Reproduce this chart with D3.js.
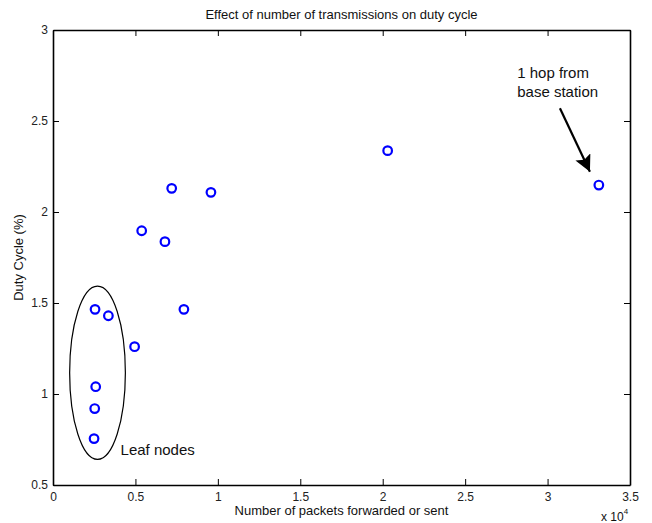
<!DOCTYPE html>
<html>
<head>
<meta charset="utf-8">
<script src="https://cdn.jsdelivr.net/npm/d3@7/dist/d3.min.js"></script>
<style>
  body { margin: 0; background: #fff; }
  text { font-family: "Liberation Sans", Arial, sans-serif; }
</style>
</head>
<body>
<script>
// packets forwarded or sent, and duty cycle (%) per node
const packets = [2550, 3360, 4950, 2590, 2530, 2490, 7940, 5380, 6790, 7200, 9580, 20300, 33110];
const duty = [1.465, 1.43, 1.26, 1.04, 0.92, 0.755, 1.465, 1.897, 1.837, 2.13, 2.108, 2.337, 2.148];
const xTicks = [0, 5000, 10000, 15000, 20000, 25000, 30000, 35000];
const yTicks = [0.5, 1, 1.5, 2, 2.5, 3];

const width = 652, height = 523;
const margin = {top: 30, right: 22, bottom: 38, left: 53};

const svg = d3.select('body').append('svg')
    .attr('width', width)
    .attr('height', height);

const x = d3.scaleLinear().domain([0, 35000]).range([margin.left, width - margin.right]);
const y = d3.scaleLinear().domain([0.5, 3]).range([height - margin.bottom, margin.top]);

svg.append('defs').append('marker')
    .attr('id', 'head')
    .attr('viewBox', '0 0 10 10')
    .attr('refX', 10).attr('refY', 5)
    .attr('markerWidth', 7.5).attr('markerHeight', 7.5)
    .attr('markerUnits', 'strokeWidth')
    .attr('orient', 'auto')
    .append('path').attr('d', 'M0,0 L10,5 L0,10 L2,5 Z').attr('fill', '#000');

function styleAxis(g) {
    g.select('.domain').attr('stroke', '#000').attr('stroke-width', 1.6);
    g.selectAll('.tick line').attr('stroke', '#000').attr('stroke-width', 1);
    g.selectAll('.tick text').attr('fill', '#222').attr('font-size', 12)
        .attr('font-family', '"Liberation Sans", Arial, sans-serif');
}

svg.append('g')
    .attr('transform', `translate(0,${y(0.5)})`)
    .call(d3.axisBottom(x).tickValues(xTicks).tickSize(-6).tickSizeOuter(0).tickPadding(7)
        .tickFormat(d => d3.format('~g')(d / 10000)))
    .call(styleAxis);

svg.append('g')
    .attr('transform', `translate(0,${y(3)})`)
    .call(d3.axisTop(x).tickValues(xTicks).tickSize(-6).tickSizeOuter(0).tickFormat(''))
    .call(styleAxis);

svg.append('g')
    .attr('transform', `translate(${x(0)},0)`)
    .call(d3.axisLeft(y).tickValues(yTicks).tickSize(-6).tickSizeOuter(0).tickPadding(5)
        .tickFormat(d3.format('~g')))
    .call(styleAxis);

svg.append('g')
    .attr('transform', `translate(${x(35000)},0)`)
    .call(d3.axisRight(y).tickValues(yTicks).tickSize(-6).tickSizeOuter(0).tickFormat(''))
    .call(styleAxis);

// leaf node ellipse
svg.append('ellipse')
    .attr('cx', x(2700)).attr('cy', y(1.117))
    .attr('rx', x(1690) - x(0)).attr('ry', y(0.5) - y(0.976))
    .attr('fill', 'none').attr('stroke', '#000').attr('stroke-width', 1.2);

// points
svg.selectAll('circle.pt')
    .data(packets)
    .join('circle')
    .attr('class', 'pt')
    .attr('cx', d => x(d))
    .attr('cy', (d, i) => y(duty[i]))
    .attr('r', 4.3)
    .attr('fill', 'none')
    .attr('stroke', '#0000ff')
    .attr('stroke-width', 2.2);

// arrow
svg.append('line')
    .attr('x1', x(30750)).attr('y1', y(2.570))
    .attr('x2', x(32570)).attr('y2', y(2.221))
    .attr('stroke', '#000').attr('stroke-width', 2.2)
    .attr('marker-end', 'url(#head)');

const note = svg.append('text')
    .attr('x', x(28160)).attr('y', y(2.735))
    .attr('font-size', 15).attr('fill', '#111');
note.append('tspan').text('1 hop from');
note.append('tspan').attr('x', x(28160)).attr('dy', 18.5).text('base station');

svg.append('text')
    .attr('x', x(4100)).attr('y', y(0.665))
    .attr('font-size', 15).attr('fill', '#111')
    .text('Leaf nodes');

// title and labels
svg.append('text')
    .attr('x', (margin.left + width - margin.right) / 2).attr('y', 19)
    .attr('text-anchor', 'middle').attr('font-size', 13).attr('fill', '#111')
    .text('Effect of number of transmissions on duty cycle');

svg.append('text')
    .attr('x', (margin.left + width - margin.right) / 2).attr('y', 515)
    .attr('text-anchor', 'middle').attr('font-size', 13).attr('fill', '#111')
    .text('Number of packets forwarded or sent');

svg.append('text')
    .attr('transform', `translate(23,${(margin.top + height - margin.bottom) / 2}) rotate(-90)`)
    .attr('text-anchor', 'middle').attr('font-size', 13).attr('fill', '#111')
    .text('Duty Cycle (%)');

const exp = svg.append('text')
    .attr('x', 601).attr('y', 521)
    .attr('font-size', 12).attr('fill', '#111');
exp.append('tspan').text('x 10');
exp.append('tspan').attr('dy', -7).attr('font-size', 8).text('4');
</script>
</body>
</html>
